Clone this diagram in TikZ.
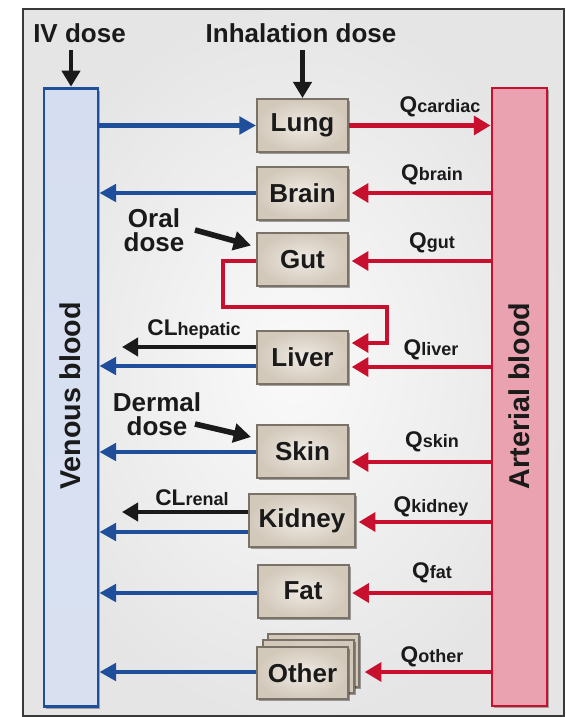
\documentclass[tikz,border=0pt]{standalone}
\usepackage{fontspec}
\setmainfont{Liberation Sans}
\usetikzlibrary{arrows.meta,shadows,calc}

\definecolor{vblue}{HTML}{1F4E9A}
\definecolor{vfill}{HTML}{D5DEF0}
\definecolor{ared}{HTML}{C8102E}
\definecolor{afill}{HTML}{EBA2B0}
\definecolor{boxfill}{HTML}{D3C9BB}
\definecolor{boxin}{HTML}{EFEAE3}
\definecolor{boxline}{HTML}{7A7267}
\definecolor{ink}{HTML}{1A1A1A}

\newcommand\lblfs{\fontsize{19.5}{18}\selectfont\bfseries}
\newcommand\barfs{\fontsize{21.5}{24}\selectfont\bfseries}
\newcommand\qlab[2]{{\fontsize{17}{18}\selectfont\bfseries #1}{\fontsize{13.5}{18}\selectfont\bfseries #2}}

\tikzset{
  organ/.style={draw=boxline, line width=1.5pt, inner color=boxin, outer color=boxfill,
    minimum width=68.25pt, minimum height=39.75pt, inner sep=0pt, font=\lblfs, text=ink,
    drop shadow={shadow xshift=1.8pt, shadow yshift=-1.8pt, opacity=0.35, fill=black}},
  lbl/.style={font=\lblfs, text=ink, inner sep=0pt, align=center},
  qlbl/.style={text=ink, inner sep=0pt},
  barr/.style={draw=vblue, line width=3.3pt, -{Triangle[length=12.5pt,width=13pt]}},
  rarr/.style={draw=ared, line width=3.3pt, -{Triangle[length=12.5pt,width=14pt]}},
  rin/.style={rarr, shorten >=2pt},
  karr/.style={draw=ink, line width=3.6pt, -{Triangle[length=12pt,width=13.5pt]}},
  karrb/.style={draw=ink, line width=4.2pt, -{Triangle[length=13pt,width=14pt]}},
}

\begin{document}
\begin{tikzpicture}[x=0.75pt, y=-0.75pt]
\useasboundingbox (0,0) rectangle (565,717);
% frame
\shade[inner color=white!96!gray, outer color=gray!20] (23,9) rectangle (564,716);
\draw[line width=1.2pt, gray!45!black] (23,9) rectangle (564,716);

% blood bars
\node[draw=vblue, line width=2.2pt, top color=vfill, bottom color=vfill!90!white,
  minimum width=40.5pt, minimum height=464pt, inner sep=0pt,
  drop shadow={shadow xshift=1.8pt, shadow yshift=-1.8pt, opacity=0.3, fill=black}] (ven) at (71,397.5) {};
\node[draw=ared, line width=2.2pt, top color=afill, bottom color=afill,
  minimum width=41.25pt, minimum height=463.5pt, inner sep=0pt,
  drop shadow={shadow xshift=1.8pt, shadow yshift=-1.8pt, opacity=0.3, fill=black}] (art) at (519.5,397) {};
\node[font=\barfs, text=ink, rotate=90] (venlbl) at (70,396) {Venous blood};
\node[font=\barfs, text=ink, rotate=90] (artlbl) at (519.5,396) {Arterial blood};

% organs
\node[organ] (lung) at (302.5,125.5) {Lung};
\node[organ] (brain) at (302.5,193) {Brain};
\node[organ] (gut) at (302.5,259.5) {Gut};
\node[organ] (liver) at (302.5,357) {Liver};
\node[organ] (skin) at (302.5,451) {Skin};
\node[organ, minimum width=79.5pt] (kidney) at (302,520.5) {Kidney};
\node[organ] (fat) at (303,591) {Fat};
\node[organ] (otherb) at (313.5,660) {};
\node[organ] (otherm) at (308,666.5) {};
\node[organ, minimum height=39pt] (other) at (302.5,673) {Other};

% dose labels
\node[lbl] (iv) at (79.5,33) {IV dose};
\node[lbl] (inh) at (301,33) {Inhalation dose};
\node[lbl] (oral) at (154,230) {Oral\\dose};
\node[lbl] (derm) at (157,414) {Dermal\\dose};
\coordinate (ivs) at (71,50);
\coordinate (inhs) at (302.5,50);
\draw[karr] (ivs) -- (ven.north);
\draw[karr] (inhs) -- (lung.north);
\coordinate (orals) at (195,230);
\coordinate (derms) at (195,424);
\draw[karrb] (orals) -- ($(gut.west)+(-5,-14)$);
\draw[karrb] (derms) -- ($(skin.west)+(-5,-14)$);

% flow labels
\node[qlbl] (qcard) at (440,107) {\qlab{Q}{cardiac}};
\node[qlbl] (qbrain) at (432,175) {\qlab{Q}{brain}};
\node[qlbl] (qgut) at (432,243) {\qlab{Q}{gut}};
\node[qlbl] (qliver) at (431,350) {\qlab{Q}{liver}};
\node[qlbl] (qskin) at (432,442) {\qlab{Q}{skin}};
\node[qlbl] (qkid) at (431,507) {\qlab{Q}{kidney}};
\node[qlbl] (qfat) at (432,573) {\qlab{Q}{fat}};
\node[qlbl] (qoth) at (432,657) {\qlab{Q}{other}};
\node[qlbl] (clh) at (194,329) {\qlab{CL}{hepatic}};
\node[qlbl] (clr) at (192,498) {\qlab{CL}{renal}};

% lung
\draw[barr] (lung.west -| ven.east) -- (lung.west);
\draw[rarr] (lung.east) -- (lung.east -| art.west);
% brain
\draw[barr] (brain.west) -- (brain.west -| ven.east);
\draw[rin] (brain.east -| art.west) -- (brain.east);
% gut
\draw[rin] ($(gut.east -| art.west)+(0,1.5)$) -- ($(gut.east)+(0,1.5)$);
\coordinate (g1) at (223,261);
\coordinate (g2) at (223,307);
\coordinate (g3) at (387,307);
\coordinate (g4) at (387,343);
\draw[rin, line join=miter] ($(gut.west)+(0,1.5)$) -- (g1) -- (g2) -- (g3) -- (g4) -- ($(liver.east)+(0,-14)$);
% liver
\coordinate (clhend) at (122,347);
\draw[karr] ($(liver.west)+(0,-10)$) -- (clhend);
\draw[barr] ($(liver.west)+(0,9)$) -- ($(liver.west -| ven.east)+(0,9)$);
\draw[rin] ($(liver.east -| art.west)+(0,10)$) -- ($(liver.east)+(0,10)$);
% skin
\draw[barr] ($(skin.west)+(0,1)$) -- ($(skin.west -| ven.east)+(0,1)$);
\draw[rin] ($(skin.east -| art.west)+(0,11)$) -- ($(skin.east)+(0,11)$);
% kidney
\coordinate (clrend) at (122,512);
\draw[karr] ($(kidney.west)+(0,-8.5)$) -- (clrend);
\draw[barr] ($(kidney.west)+(0,11.5)$) -- ($(kidney.west -| ven.east)+(0,11.5)$);
\draw[rin] ($(kidney.east -| art.west)+(0,1.5)$) -- ($(kidney.east)+(0,1.5)$);
% fat
\draw[barr] ($(fat.west)+(0,2)$) -- ($(fat.west -| ven.east)+(0,2)$);
\draw[rin] ($(fat.east -| art.west)+(0,2)$) -- ($(fat.east)+(0,2)$);
% other
\draw[barr] ($(other.west)+(0,-1)$) -- ($(other.west -| ven.east)+(0,-1)$);
\draw[rin] ($(other.east -| art.west)+(0,-1)$) -- ($(other.east -| otherb.east)+(2,-1)$);
\end{tikzpicture}
\end{document}
